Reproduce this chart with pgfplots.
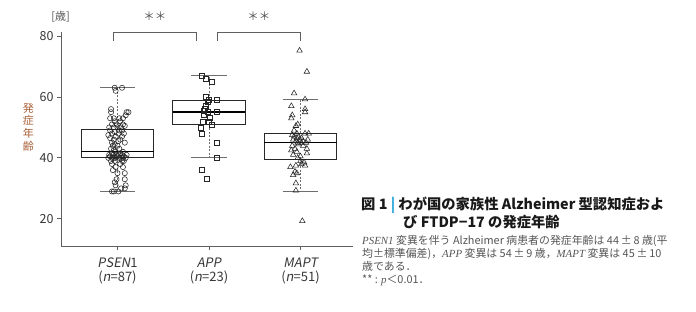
\documentclass[border=0pt]{standalone}
\usepackage{fontspec}
\usepackage{pgfplots}
\pgfplotsset{compat=1.18}
\usepgfplotslibrary{statistics}
\setmainfont{Noto Sans CJK JP}
\newfontfamily\itsans[FakeSlant=0.18]{Noto Sans CJK JP}
\newfontfamily\tnr{Liberation Serif}
\definecolor{axisgray}{RGB}{95,95,95}
\definecolor{textdark}{RGB}{55,55,55}
\definecolor{boxcol}{RGB}{40,40,40}
\definecolor{whiskcol}{RGB}{110,110,110}
\definecolor{ylabcol}{RGB}{170,95,55}
\definecolor{capgray}{RGB}{85,85,85}
\definecolor{cyanbar}{RGB}{30,160,215}
\pgfplotsset{
  boxplot/draw/lower whisker/.code={
    \draw[dashed, whiskcol, line width=0.7pt, dash pattern=on 2pt off 1.5pt]
      (boxplot box cs:\pgfplotsboxplotvalue{lower quartile},0.5) --
      (boxplot box cs:\pgfplotsboxplotvalue{lower whisker},0.5);
    \draw[whiskcol, line width=0.8pt]
      (boxplot whisker cs:\pgfplotsboxplotvalue{lower whisker},0) --
      (boxplot whisker cs:\pgfplotsboxplotvalue{lower whisker},1);
  },
  boxplot/draw/upper whisker/.code={
    \draw[dashed, whiskcol, line width=0.7pt, dash pattern=on 2pt off 1.5pt]
      (boxplot box cs:\pgfplotsboxplotvalue{upper quartile},0.5) --
      (boxplot box cs:\pgfplotsboxplotvalue{upper whisker},0.5);
    \draw[whiskcol, line width=0.8pt]
      (boxplot whisker cs:\pgfplotsboxplotvalue{upper whisker},0) --
      (boxplot whisker cs:\pgfplotsboxplotvalue{upper whisker},1);
  },
}
\begin{document}
\begin{tikzpicture}[x=1pt,y=1pt]
\path[use as bounding box] (0,0) rectangle (696,312);
\begin{axis}[
  at={(61pt,66pt)}, anchor=south west,
  scale only axis, width=292pt, height=214pt,
  xmin=-0.617, xmax=2.574, ymin=11.1, ymax=81.3,
  axis x line*=bottom, axis y line*=left,
  axis line style={draw=axisgray, line width=0.8pt},
  tick align=outside, major tick length=4pt,
  tick style={draw=axisgray, line width=0.8pt},
  xtick={0,1,2}, ytick={20,40,60,80},
  xticklabels={{{\itsans PSEN}1\\({\itsans n}=87)},{{\itsans APP}\\({\itsans n}=23)},{{\itsans MAPT}\\({\itsans n}=51)}},
  xticklabel style={align=center, font=\fontsize{13}{14}\selectfont, text=textdark, yshift=-4pt},
  yticklabel style={font=\fontsize{12.5}{14}\selectfont, text=textdark},
  /pgf/number format/assume math mode=true,
  clip=false,
  boxplot/draw direction=y,
  boxplot/every box/.style={draw=boxcol, line width=0.8pt},
  boxplot/every median/.style={draw=black, line width=1.6pt},
]
% boxes
\addplot[draw=boxcol, boxplot prepared={draw position=0, median=42.1, upper quartile=49.5, lower quartile=40.2, upper whisker=63, lower whisker=29, box extend=0.79, whisker extend=0.39}] coordinates {};
\addplot[draw=boxcol, boxplot prepared={draw position=1, median=55.1, upper quartile=59.0, lower quartile=50.9, upper whisker=66.9, lower whisker=40.1, box extend=0.79, whisker extend=0.39}] coordinates {};
\addplot[draw=boxcol, boxplot prepared={draw position=2, median=45.0, upper quartile=48.1, lower quartile=39.6, upper whisker=59.1, lower whisker=29.0, box extend=0.79, whisker extend=0.39}] coordinates {};
% PSEN1 points
\addplot[only marks, mark=o, mark size=2.6pt, mark options={draw=black!85, line width=0.55pt}] table {
x y
-0.06 29
-0.04 29
0.01 29
0.04 30
0.08 30
-0.02 31
0.09 31
-0.03 32
0.08 33
-0.01 33
0.08 35
0.00 35
-0.05 36
-0.02 37
0.06 37
-0.06 38
0.03 38
0.07 39
-0.03 39
0.05 39
-0.07 39
-0.10 40
-0.06 40
-0.02 40
0.02 40
0.06 40
0.09 40
-0.04 40
0.04 40
-0.08 40.5
0.00 40.5
0.07 40.5
-0.03 40.5
-0.09 41
-0.05 41
0.01 41
0.05 41
0.10 41
-0.01 41
-0.06 41.5
0.03 41.5
-0.02 42
0.06 42
-0.04 42.5
-0.07 43
0.02 43
-0.05 44
0.00 44
-0.03 44.5
-0.06 45
0.08 45
0.01 45.5
-0.04 46
0.03 46
-0.08 46.5
-0.02 47
0.05 47
-0.10 47.5
-0.06 48
0.01 48
0.07 48
-0.03 48.5
-0.08 49
0.02 49
0.05 49
-0.09 50
-0.04 50
0.00 50
0.04 50
0.08 50.5
-0.06 51
-0.01 51
0.06 51
-0.03 52
0.03 52
-0.08 53
-0.04 53
0.02 53
0.06 53
0.09 54
-0.07 55
0.10 55
0.12 55
-0.07 56
-0.02 62
-0.03 63
0.05 63
};
% APP points
\addplot[only marks, mark=square, mark size=2.5pt, mark options={draw=black!85, line width=0.55pt}] table {
x y
0.923 67
0.967 66
1.033 65
0.967 60
1.00 59
1.087 59
0.99 58.5
0.97 57
0.956 56
0.945 55.5
1.087 55
0.99 55
0.945 54
1.01 53
0.934 52
1.00 52
1.03 51
0.913 50
0.918 48
1.087 45
1.087 40
0.923 36
0.978 33
};
% MAPT points
\addplot[only marks, mark=triangle, mark size=3.2pt, mark options={draw=black!85, line width=0.55pt}] table {
x y
2.02 19.3
1.95 29.3
1.95 31.7
1.92 34.4
1.96 35
1.94 35.5
1.89 37
1.95 37.5
2.05 37.5
2.01 38
2.04 38.5
2.00 39
1.97 40
2.00 40.5
1.92 41
2.07 41.5
1.96 42
1.90 42.5
1.94 43
2.07 43
1.91 44
2.03 44
1.98 44.5
1.97 45
2.01 45
2.06 45
1.95 45.5
2.03 45.5
1.92 46
1.99 46
2.08 46
1.96 46.5
2.01 46.5
1.93 47
1.98 47
1.91 47.5
2.05 48
2.09 48
1.96 48
1.93 49
1.95 50.5
1.97 51
1.90 53
1.91 54
2.05 55
2.05 56
1.90 57
2.05 59.2
1.93 61.2
2.07 68.3
1.99 75.2
};
% significance brackets
\draw[axisgray, line width=0.8pt] (axis cs:-0.045,78.5) -- (axis cs:-0.045,81.3) -- (axis cs:0.86,81.3) -- (axis cs:0.86,78.5);
\draw[axisgray, line width=0.8pt] (axis cs:1.09,78.5) -- (axis cs:1.09,81.3) -- (axis cs:2.0,81.3) -- (axis cs:2.0,78.5);
\node[text=capgray, font=\fontsize{11.5}{11.5}\selectfont] at (axis cs:0.41,86.6) {＊＊};
\node[text=capgray, font=\fontsize{11.5}{11.5}\selectfont] at (axis cs:1.545,86.6) {＊＊};
\end{axis}
% unit and y label
\node[text=capgray, font=\fontsize{11}{11}\selectfont] at (60.5,295) {[歳]};
\node[text=ylabcol, font=\fontsize{11}{12.7}\selectfont, align=center] at (28.5,185) {発\\症\\年\\齢};
% title
\node[anchor=base west, inner sep=0pt, text=black!90, font=\fontsize{14.3}{16}\selectfont\bfseries] at (361,102) {図 1 {\color{cyanbar}|} わが国の家族性 Alzheimer 型認知症およ};
\node[anchor=base west, inner sep=0pt, text=black!90, font=\fontsize{14.3}{16}\selectfont\bfseries] at (403,84) {び FTDP−17 の発症年齢};
% caption
\begin{scope}[every node/.style={anchor=base west, inner sep=0pt, text=capgray, font=\fontsize{10.9}{12}\selectfont}]
\node at (362,67) {{\tnr\itshape PSEN1} 変異を伴う Alzheimer 病患者の発症年齢は 44\,±\,8 歳(平};
\node at (362,54) {均±標準偏差)，{\tnr\itshape APP} 変異は 54\,±\,9 歳，{\tnr\itshape MAPT} 変異は 45\,±\,10};
\node at (362,41) {歳である．};
\node at (362,28) {** : {\tnr\itshape p}＜0.01．};
\end{scope}
\end{tikzpicture}
\end{document}
